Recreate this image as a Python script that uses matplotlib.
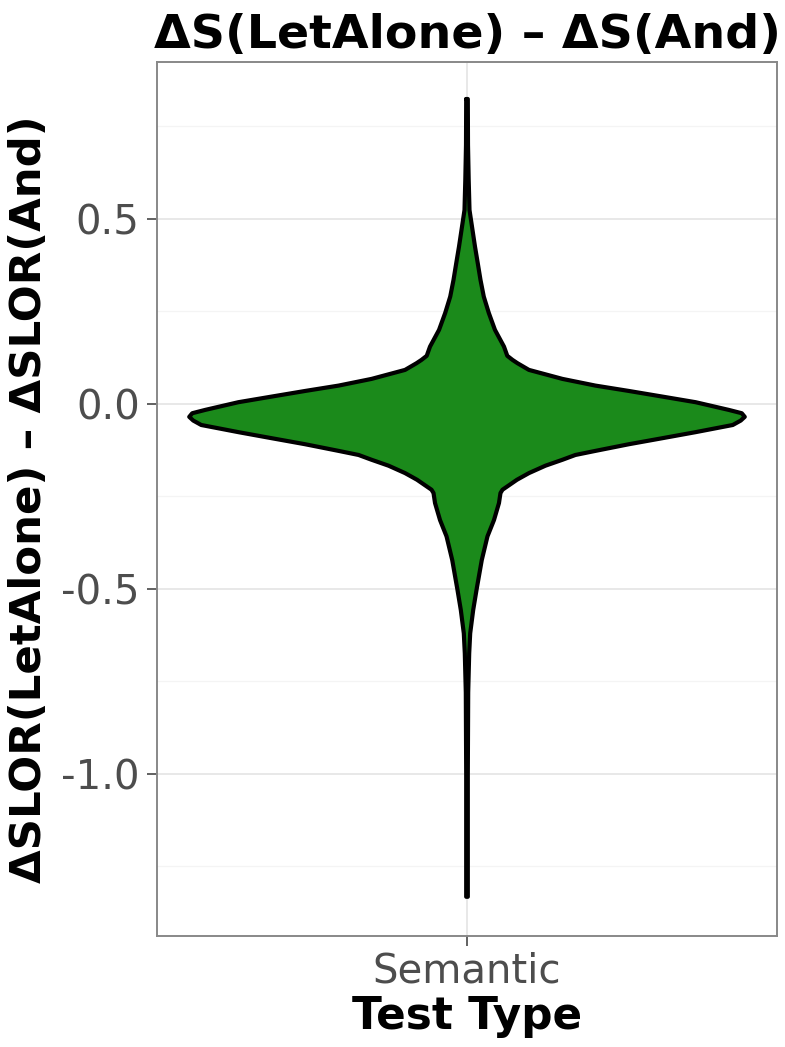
import matplotlib
matplotlib.use("Agg")
import matplotlib.pyplot as plt
import numpy as np
from matplotlib.ticker import MultipleLocator

# ---- data ----
category = "Semantic"
# violin profile: value (y) and relative density (half-width, max = 1)
dens_y = [0.824, 0.70, 0.605, 0.524, 0.47, 0.425, 0.38, 0.335, 0.29, 0.246,
          0.20, 0.155, 0.13, 0.119, 0.11, 0.0919, 0.0676, 0.0495, 0.035,
          0.0198, 0.0046, -0.0162, -0.0252, -0.035, -0.045, -0.057, -0.0765,
          -0.0927, -0.109, -0.127, -0.138, -0.151, -0.167, -0.187, -0.205,
          -0.232, -0.241, -0.268, -0.314, -0.358, -0.422, -0.503, -0.557,
          -0.62, -0.674, -0.78, -1.0, -1.332]
dens_w = [0.0029, 0.0036, 0.0061, 0.009, 0.0198, 0.0288, 0.0388, 0.0486,
          0.0604, 0.0784, 0.1007, 0.1331, 0.145, 0.1637, 0.1817, 0.223,
          0.3435, 0.4622, 0.5827, 0.7032, 0.823, 0.9424, 0.9892, 1.0,
          0.9856, 0.9568, 0.8219, 0.7032, 0.5827, 0.4622, 0.3903, 0.3435,
          0.2824, 0.223, 0.1799, 0.1277, 0.1205, 0.1151, 0.0971, 0.0737,
          0.0532, 0.0342, 0.0223, 0.0115, 0.0079, 0.0043, 0.0029, 0.0029]
yticks = [-1.0, -0.5, 0.0, 0.5]
ytick_labels = ["-1.0", "-0.5", "0.0", "0.5"]

title = "ΔS(LetAlone) – ΔS(And)"
xlabel = "Test Type"
ylabel = "ΔSLOR(LetAlone) – ΔSLOR(And)"

fig = plt.figure(figsize=(7.85, 10.47), dpi=100)
ax = fig.add_axes([157/785, 1-936/1047, 620/785, 874/1047])

pos = 1.0
half = 0.448
y = np.array(dens_y)
w = np.array(dens_w) * half

ax.fill_betweenx(y, pos - w, pos + w, facecolor="#1b8a1b", edgecolor="none", zorder=3)
xs = np.concatenate([pos - w, (pos + w)[::-1], [pos - w[0]]])
ys = np.concatenate([y, y[::-1], [y[0]]])
ax.plot(xs, ys, color="black", lw=3.0, zorder=4, solid_joinstyle="round",
        solid_capstyle="round")

ax.set_xlim(0.5, 1.5)
ax.set_ylim(-1.438, 0.924)
ax.set_xticks([pos])
ax.set_xticklabels([category])
ax.set_yticks(yticks)
ax.set_yticklabels(ytick_labels)
ax.yaxis.set_minor_locator(MultipleLocator(0.25))

ax.grid(which="major", color="#e6e6e6", lw=1.3, zorder=0)
ax.grid(which="minor", axis="y", color="#f4f4f4", lw=0.9, zorder=0)
ax.set_axisbelow(True)
for s in ax.spines.values():
    s.set_color("#888888")
    s.set_linewidth(1.4)

ax.tick_params(axis="both", which="major", labelsize=29, labelcolor="#4d4d4d",
               color="#555555", length=7, width=1.3, pad=5.5)
ax.tick_params(axis="x", which="major", pad=4)
ax.tick_params(axis="y", which="minor", length=0)

ax.set_title(title, fontsize=34.2, fontweight="bold", pad=10)
ax.set_xlabel(xlabel, fontsize=31.5, fontweight="bold", labelpad=3)
ax.set_ylabel(ylabel, fontsize=31.3, fontweight="bold", labelpad=8)

fig.savefig("out.png", dpi=100)
